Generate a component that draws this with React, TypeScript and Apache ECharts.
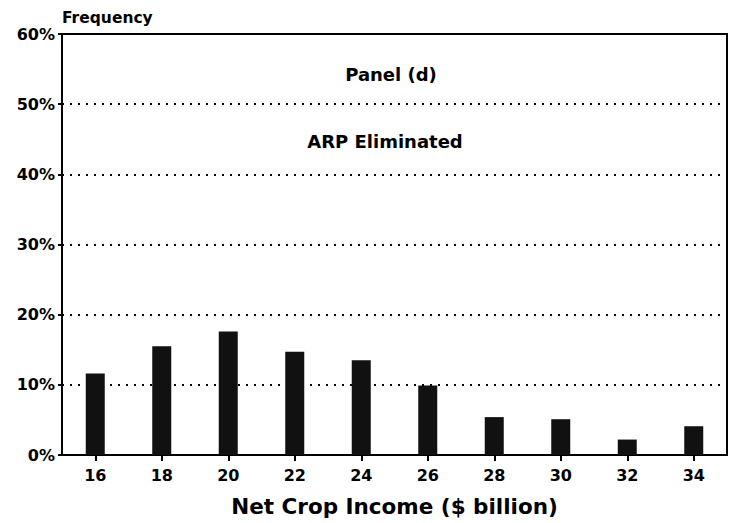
import React, { useEffect, useRef } from "react";
import * as echarts from "echarts";

const categories = ["16", "18", "20", "22", "24", "26", "28", "30", "32", "34"];
const frequency = [11.6, 15.5, 17.6, 14.7, 13.5, 9.9, 5.4, 5.1, 2.2, 4.1];
const yTicks = [0, 10, 20, 30, 40, 50, 60];
const panelTitle = "Panel (d)";
const panelSubtitle = "ARP Eliminated";
const xName = "Net Crop Income ($ billion)";
const yName = "Frequency";

const FONT = "'DejaVu Sans', 'Liberation Sans', Arial, sans-serif";

export default function App() {
  const ref = useRef<HTMLDivElement>(null);
  useEffect(() => {
    if (!ref.current) return;
    const chart = echarts.init(ref.current, undefined, { renderer: "svg" });
    chart.setOption({
      animation: false,
      backgroundColor: "#ffffff",
      grid: {
        left: 62,
        right: 5,
        top: 34,
        bottom: 68,
        show: true,
        borderColor: "#000",
        borderWidth: 2,
        backgroundColor: "transparent",
      },
      graphic: [
        {
          type: "text",
          x: 391,
          y: 74,
          style: {
            text: panelTitle,
            fill: "#000",
            font: `bold 18px ${FONT}`,
            textAlign: "center",
            textVerticalAlign: "middle",
          },
        },
        {
          type: "text",
          x: 385,
          y: 141,
          style: {
            text: panelSubtitle,
            fill: "#000",
            font: `bold 18px ${FONT}`,
            textAlign: "center",
            textVerticalAlign: "middle",
          },
        },
      ],
      xAxis: {
        type: "category",
        data: categories,
        boundaryGap: true,
        name: xName,
        nameLocation: "middle",
        nameGap: 40,
        nameTextStyle: {
          color: "#000",
          fontFamily: FONT,
          fontWeight: "bold",
          fontSize: 21.5,
        },
        axisLine: { show: true, lineStyle: { color: "#000", width: 2 } },
        axisTick: {
          show: true,
          alignWithLabel: true,
          length: 6,
          lineStyle: { color: "#000", width: 2 },
        },
        axisLabel: {
          color: "#000",
          fontFamily: FONT,
          fontWeight: "bold",
          fontSize: 16,
          margin: 12,
        },
        splitLine: { show: false },
      },
      yAxis: {
        type: "value",
        min: yTicks[0],
        max: yTicks[yTicks.length - 1],
        interval: 10,
        name: yName,
        nameLocation: "end",
        nameGap: 8,
        nameTextStyle: {
          color: "#000",
          fontFamily: FONT,
          fontWeight: "bold",
          fontSize: 15.5,
          align: "left",
        },
        axisLine: { show: true, lineStyle: { color: "#000", width: 2 } },
        axisTick: { show: true, length: 4, lineStyle: { color: "#000", width: 2 } },
        axisLabel: {
          color: "#000",
          fontFamily: FONT,
          fontWeight: "bold",
          fontSize: 16,
          margin: 7,
          formatter: "{value}%",
        },
        splitLine: {
          show: true,
          lineStyle: { color: "#000", width: 2, type: [2, 6] },
        },
      },
      series: [
        {
          type: "bar",
          data: frequency,
          barWidth: 19,
          itemStyle: { color: "#111" },
        },
      ],
    });
    return () => chart.dispose();
  }, []);
  return <div ref={ref} style={{ width: 732, height: 523, position: "absolute", left: 0, top: 0 }} />;
}
